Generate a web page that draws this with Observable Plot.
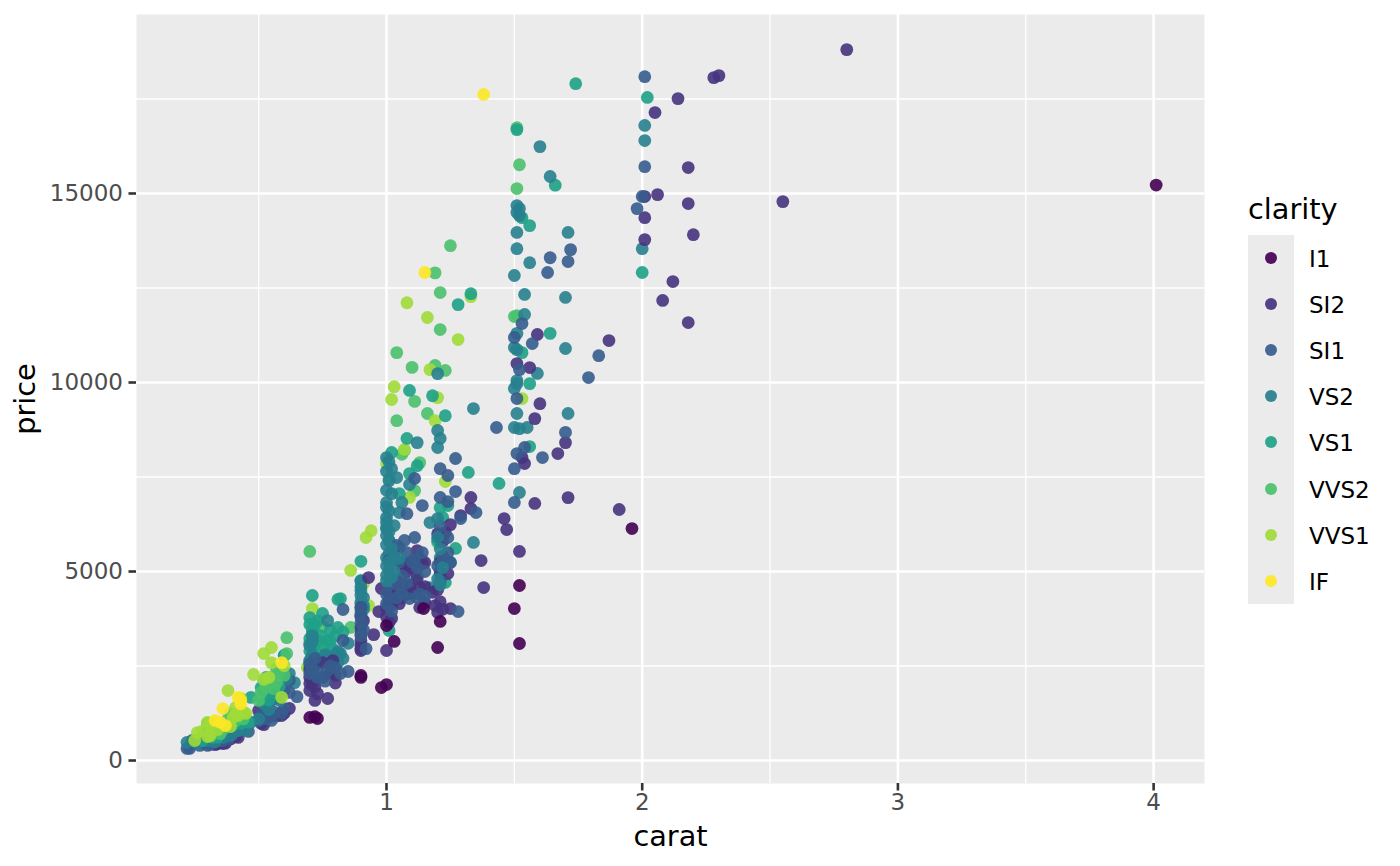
<!DOCTYPE html>
<html>
<head>
<meta charset="utf-8">
<script src="https://cdn.jsdelivr.net/npm/d3@7"></script>
<script src="https://cdn.jsdelivr.net/npm/@observablehq/plot@0.6"></script>
<style>
html,body{margin:0;padding:0;background:#fff;font-family:"DejaVu Sans",sans-serif;}
#wrap{position:relative;width:1400px;height:866px;overflow:hidden;}
#legend{position:absolute;left:1248px;top:192px;}
#legend .t{font-size:28.8px;line-height:34px;height:43px;color:#000;}
#legend .row{display:flex;align-items:center;height:46.1px;}
#legend .key{width:46px;height:46.1px;background:#ebebeb;display:flex;align-items:center;justify-content:center;}
#legend .dot{width:12px;height:12px;border-radius:50%;opacity:.92;}
#legend .lab{font-size:23px;margin-left:15px;color:#000;position:relative;top:1px;}
</style>
</head>
<body>
<div id="wrap"></div>
<script>
const clarityLevels = ["I1","SI2","SI1","VS2","VS1","VVS2","VVS1","IF"];
const clarityColors = ["#440154","#46337E","#365C8D","#277F8E","#1FA187","#4AC16D","#A0DA39","#FDE725"];
const xMajor = [1,2,3,4];
const xMinor = [0.5,1.5,2.5,3.5];
const yMajor = [0,5000,10000,15000];
const yMinor = [2500,7500,12500,17500];

const I1 = [[4.01,15223],[1.96,6137],[1.52,4630],[1.50,4020],[1.52,3095],[1.20,2990],[1.21,3680],[1.03,3150],[1.00,3570],[0.98,1930],[1.00,2010],[0.90,2200],[0.90,2250],[0.70,1140],[0.72,1160],[0.73,1110],[1.145,4020]];
const SI2 = [[2.80,18806],[2.30,18118],[2.28,18065],[2.14,17510],[2.05,17140],[2.06,14970],[2.01,14918],[2.01,14360],[2.01,13780],[2.18,15685],[2.18,14733],[2.20,13910],[2.12,12670],[2.08,12170],[2.18,11585],[2.55,14785],[1.87,11110],[1.59,11270],[1.56,10395],[1.51,10500],[1.60,9440],[1.58,9045],[1.70,8410],[1.67,8120],[1.54,7855],[1.53,8015],[1.71,6955],[1.58,6800],[1.46,6400],[1.47,6110],[1.52,5530],[1.91,6640],[1.38,4575],[1.37,5290],[1.33,6960],[1.33,6665],[1.29,6480],[1.25,6240],[1.23,6030],[1.12,5555],[1.15,5240],[1.07,5160],[1.09,5240],[1.24,4945],[0.93,4840],[0.98,4550],[1.13,4575],[1.20,4520],[1.09,4630],[1.04,4760],[1.15,4180],[1.19,4100],[1.20,3915],[1.25,4020],[1.13,4050],[1.01,4420],[1.02,4100],[0.97,3940],[1.02,3760],[0.90,3520],[0.90,3175],[0.95,3330],[0.90,2910],[1.00,2910],[1.06,5105],[1.02,4310],[1.01,4230],[1.05,4150],[1.14,5210],[0.90,4050],[0.90,2960],[0.77,1640],[0.72,1590],[0.70,1850],[0.70,2035],[0.70,2200],[0.80,2250],[0.73,1770],[0.75,2590],[0.79,2645],[0.50,1320],[0.51,980],[0.59,1190],[0.42,610],[0.34,450],[0.36,450],
[1.04,4500],[1.06,4600],[1.08,4400],[1.10,4450],[1.12,4800],[1.15,4600],[1.18,4450],[1.21,4200],[1.22,4000],[1.00,3800],[1.01,3650],[1.00,4050],[1.03,4250],[1.06,4300],[1.08,5000],[1.10,5100],[1.13,5350],[1.21,5000],[1.21,5250],[1.22,5800],[1.20,6000],
[0.70,2400],[0.71,2050],[0.72,1950],[0.75,2200],[0.78,2300],[0.80,2050],[0.90,3350],[0.90,3050],[0.91,3700],[0.90,3800],
[0.31,430],[0.33,420],[0.37,460],[0.39,570],[0.41,640],[0.52,950],[0.54,1150],[0.57,1180],[0.60,1250],[0.62,1380]];
const SI1 = [[2.01,18090],[2.01,15710],[2.00,14920],[1.98,14600],[1.72,13515],[1.71,13200],[1.64,13300],[1.63,12910],[1.53,11560],[1.57,11030],[1.50,11190],[1.83,10710],[1.79,10130],[1.52,10340],[1.51,9575],[1.43,8810],[1.70,8680],[1.61,8015],[1.54,8280],[1.51,8120],[1.50,7720],[1.50,6825],[1.27,7990],[1.21,7720],[1.24,7540],[1.11,7460],[1.27,7115],[1.21,6960],[1.24,6850],[1.14,6745],[1.35,6560],[1.29,6400],[1.08,6530],[1.11,5900],[1.07,5820],[1.24,5900],[1.04,5690],[1.11,5340],[1.14,5500],[1.06,4890],[1.15,5000],[1.25,5240],[1.09,4285],[1.12,4310],[1.28,3940],[0.83,3995],[0.83,3175],[0.92,2960],[0.90,3835],[0.90,4050],[1.06,4420],[0.85,2355],[0.65,1690],[0.60,1375],[0.55,1590],[0.53,1270],[0.55,1060],[0.46,770],[0.40,690],[0.30,400],[0.22,320],[0.23,320],[0.24,530],[0.30,710],[0.77,2380],[0.73,2330],[0.70,2300],[0.62,2115],[0.60,1850],[0.62,1800],
[1.01,5300],[1.03,5500],[1.05,5250],[1.08,5500],[1.10,5250],[1.12,5100],[1.05,4650],[1.08,4700],[1.13,4400],[1.15,4350],[1.01,4650],[1.00,4400],[1.00,4150],[1.21,4750],[1.24,5500],[1.02,3950],[1.04,4300],[1.20,5150],[1.22,5400],[1.21,6200],
[0.70,2550],[0.71,2400],[0.72,2700],[0.73,2200],[0.76,2100],[0.78,2500],[0.80,2450],[0.82,2300],[0.90,3650],[0.91,3450],[0.90,3300],
[0.25,450],[0.27,400],[0.28,480],[0.31,440],[0.33,560],[0.36,520],[0.38,570],[0.42,800],[0.44,900],[0.50,1050],[0.51,1200],[0.52,1100],[0.56,1280],[0.57,1650],[0.59,1250]];
const VS2 = [[2.01,16800],[2.01,16400],[1.60,16240],[1.71,13970],[1.64,15450],[1.51,14680],[1.52,14600],[1.51,14500],[1.52,14415],[1.51,13970],[1.51,13540],[1.56,13170],[1.50,12830],[1.54,12330],[1.70,12250],[1.54,11800],[1.51,11300],[1.50,10925],[1.51,10870],[1.70,10900],[1.59,10240],[1.51,10050],[1.50,9840],[1.51,9970],[1.51,9180],[1.71,9180],[1.50,8810],[1.52,8780],[1.55,8810],[1.52,7090],[2.00,13540],[1.34,9310],[1.20,10235],[1.20,8730],[1.21,8520],[1.20,8280],[1.12,8410],[1.00,8015],[1.04,7485],[1.02,7720],[1.09,7300],[1.00,6825],[1.02,7060],[1.06,6825],[1.05,6560],[1.17,6295],[1.00,6430],[1.00,6135],[1.03,6215],[1.01,5820],[1.34,5770],[1.21,5370],[1.25,5240],[1.00,5370],[1.01,5025],[1.21,4945],[1.17,4575],[1.01,5475],[1.05,5635],[0.90,4600],[0.91,4310],[0.91,4100],[0.82,2830],[0.60,2780],[0.62,2300],[0.64,2060],[0.61,2170],[0.71,3300],[0.90,4150],[0.81,2880],[0.77,3700],[0.90,4370],[0.81,2590],[0.22,480],[0.26,450],[0.45,790],[0.47,1010],
[0.70,3050],[0.71,2800],[0.70,2650],[0.72,2500],[0.71,3150],[0.70,2450],[0.74,2650],[0.76,2800],[0.78,2700],[0.80,2800],[0.83,2700],[0.85,3100],[0.90,4500],[0.90,4750],[0.91,4000],[0.90,3850],
[0.27,560],[0.30,520],[0.33,500],[0.36,610],[0.39,660],[0.42,790],[0.50,1100],[0.52,1500],[0.54,1350],[0.58,1600],[0.56,1750]];
const VS2upper = [[1.01,7900],[1.00,7650],[1.01,7400],[1.00,7150],[1.00,6700],[1.01,6600],[1.00,6300],[1.01,6050],[1.00,5950],[1.00,5700],[1.02,5600],[1.01,5250],[1.00,5150],[1.00,4900],[1.00,4750],[1.02,4850],[1.03,5000],[1.05,5350],[1.20,6400],[1.20,5900],[1.21,5600],[1.22,5100],[1.20,4800],[1.21,4650],[1.02,5300]];
const VS1 = [[1.74,17905],[2.02,17540],[1.51,16690],[1.66,15220],[1.56,14150],[1.53,14360],[1.64,11300],[2.00,12910],[1.53,10790],[1.56,9970],[1.56,8305],[1.44,7330],[1.28,12060],[1.33,12350],[1.09,9790],[1.23,9120],[1.18,9650],[1.08,8520],[1.02,8150],[1.12,7800],[1.09,7590],[1.32,7620],[1.01,5820],[1.27,5610],[0.90,5270],[1.22,6430],[1.20,5820],[1.01,3440],[1.05,7060],[1.24,6745],[1.21,6690],[1.00,6160],[1.23,4710],[1.12,4890],[0.82,4285],[0.90,4760],[0.71,4365],[0.81,4260],[0.75,3890],[0.70,3780],[0.71,3490],[0.73,3700],[0.73,3175],[0.78,3440],[0.81,3520],[0.77,3175],[0.70,3230],[0.60,2780],[0.51,1930],[0.53,2200],[0.55,1900],[0.47,1670],[0.40,1140],[0.43,980],[0.46,1010],[0.38,980],[0.35,740],[0.32,610],[0.28,530],
[0.70,3600],[0.71,3400],[0.70,3100],[0.71,3000],[0.70,2900],[0.71,2750],[0.70,2600],[0.72,3600],[0.74,3300],[0.76,3000],[0.78,3150],[0.79,2950],[0.72,2900],[0.75,2750],[0.80,3300],[0.83,3400],[0.90,4200],[0.90,3950],
[0.30,800],[0.31,700],[0.33,850],[0.34,620],[0.37,880],[0.40,930],[0.42,1160],[0.44,1240],[0.51,1650],[0.52,1820],[0.54,1600],[0.56,1780],[0.58,1950]];
const VVS2 = [[1.51,16740],[1.52,15760],[1.51,15130],[1.25,13620],[1.19,12900],[1.21,12380],[1.21,11400],[1.04,10790],[1.10,10400],[1.19,10450],[1.23,10320],[1.11,9500],[1.04,8990],[1.16,9180],[1.07,8200],[1.06,8100],[1.13,7880],[1.01,7460],[1.11,7140],[1.20,5770],[0.86,3520],[0.70,5530],[1.51,11770],[1.50,11745],[0.61,3250],[0.61,2830],[0.52,2115],[0.57,2060],[0.55,2200],[0.50,1590],[0.53,1930],[0.30,980],[0.35,710],[0.39,1240],[0.57,2430],[0.75,3545],[0.73,3095],
[0.31,900],[0.33,750],[0.36,820],[0.38,1100],[0.41,1050],[0.44,1100],[0.51,1800],[0.54,2050],[0.56,1900],[0.58,2300],[0.60,2250]];
const VVS1 = [[1.33,12270],[1.08,12110],[1.16,11720],[1.28,11135],[1.17,10340],[1.02,9550],[1.03,9890],[1.20,9600],[1.19,8990],[1.53,9575],[1.09,6960],[1.23,7380],[0.94,6080],[0.92,5900],[0.86,5030],[1.00,7855],[1.07,8230],[0.91,4680],[0.93,4100],[0.71,4020],[0.60,2510],[0.52,2830],[0.55,2990],[0.55,2590],[0.48,2275],[0.38,1850],[0.43,1640],[0.41,1400],[0.45,1245],[0.42,1190],[0.40,1140],[0.30,1010],[0.26,740],[0.30,635],[0.25,530],[0.69,2460],[0.59,1670],[0.75,3120],
[0.28,780],[0.31,650],[0.31,950],[0.33,1000],[0.34,820],[0.39,900],[0.41,1220],[0.44,1280],[0.52,2150],[0.54,2200]];
const IF = [[1.38,17620],[1.15,12910],[0.43,1590],[0.36,1375],[0.33,1060],[0.37,925],[0.35,1010],[0.42,1670],[0.59,2590],[0.43,1500]];

const drawOrder = [["VVS2",VVS2],["VVS1",VVS1],["VS1",VS1],["VS2",VS2],["SI2",SI2],["SI1",SI1],["I1",I1],["VS2",VS2upper],["IF",IF]];
const allRows = drawOrder.flatMap(([clarity, pts]) => pts.map(([carat, price]) => ({carat, price, clarity})));
const smallOrder = ["SI2","SI1","VS2","VS1","VVS2","VVS1","IF"];
const diamonds = [
  ...allRows.filter(d => d.carat >= 0.62),
  ...smallOrder.flatMap(c => allRows.filter(d => d.carat < 0.62 && d.clarity === c))
];

const chart = Plot.plot({
  width: 1400, height: 866,
  marginLeft: 136, marginRight: 196, marginTop: 14, marginBottom: 83,
  style: {fontFamily: "DejaVu Sans", background: "#fff"},
  x: {domain: [0.0223, 4.199]},
  y: {domain: [-608, 19735]},
  color: {type: "ordinal", domain: clarityLevels, range: clarityColors},
  marks: [
    Plot.frame({fill: "#ebebeb", stroke: "none"}),
    Plot.ruleX(xMinor, {stroke: "#fff", strokeWidth: 1.3}),
    Plot.ruleY(yMinor, {stroke: "#fff", strokeWidth: 1.3}),
    Plot.ruleX(xMajor, {stroke: "#fff", strokeWidth: 2.6}),
    Plot.ruleY(yMajor, {stroke: "#fff", strokeWidth: 2.6}),
    Plot.dot(diamonds, {x: "carat", y: "price", fill: "clarity", r: 6.4, fillOpacity: 0.9}),
    Plot.axisX({ticks: xMajor, tickFormat: d => String(d), label: null, tickSize: 7.5, tickPadding: 3, fontSize: 23, color: "#4d4d4d", strokeWidth: 2.6}),
    Plot.axisY({ticks: yMajor, tickFormat: d => String(d), label: null, tickSize: 7.5, tickPadding: 6, fontSize: 23, color: "#4d4d4d", strokeWidth: 2.6}),
    Plot.axisX({ticks: [], label: "carat", labelAnchor: "center", labelArrow: "none", labelOffset: 62, fontSize: 28.8, color: "#000", tickSize: 0}),
    Plot.axisY({ticks: [], label: "price", labelAnchor: "center", labelArrow: "none", labelOffset: 122, fontSize: 28.8, color: "#000", tickSize: 0})
  ]
});
const wrap = document.getElementById("wrap");
wrap.appendChild(chart);
d3.select(chart).selectAll('g[aria-label$="axis tick"]').attr("stroke", "#333");

const legend = d3.select(wrap).append("div").attr("id", "legend");
legend.append("div").attr("class", "t").text("clarity");
clarityLevels.forEach((c, i) => {
  const row = legend.append("div").attr("class", "row");
  row.append("div").attr("class", "key").append("div").attr("class", "dot").style("background", clarityColors[i]);
  row.append("div").attr("class", "lab").text(c);
});
</script>
</body>
</html>
